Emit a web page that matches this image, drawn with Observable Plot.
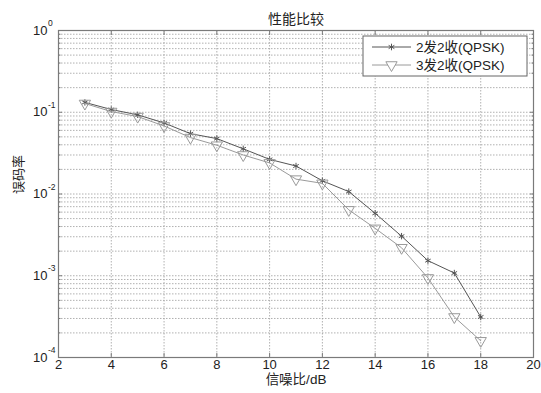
<!DOCTYPE html>
<html>
<head>
<meta charset="utf-8">
<script src="https://cdn.jsdelivr.net/npm/d3@7"></script>
<script src="https://cdn.jsdelivr.net/npm/@observablehq/plot@0.6"></script>
<style>
  html, body { margin: 0; padding: 0; background: #fff; }
  #chart { width: 541px; height: 393px; }
</style>
</head>
<body>
<div id="chart"></div>
<script>
// ---- data ----
const snr = [3, 4, 5, 6, 7, 8, 9, 10, 11, 12, 13, 14, 15, 16, 17, 18];
const ber2x2 = [0.132, 0.108, 0.093, 0.074, 0.0547, 0.0476, 0.0357, 0.0265, 0.022, 0.0145, 0.0107, 0.0058, 0.00305, 0.00153, 0.00108, 0.000313];
const ber3x2 = [0.128, 0.102, 0.0886, 0.068, 0.049, 0.0395, 0.030, 0.024, 0.0152, 0.0135, 0.0064, 0.0038, 0.0022, 0.00094, 0.000313, 0.00016];
const seriesNames = ["2发2收(QPSK)", "3发2收(QPSK)"];
const xTicks = [2, 4, 6, 8, 10, 12, 14, 16, 18, 20];
const decades = [1e-4, 1e-3, 1e-2, 1e-1, 1];
const decadeExps = ["-4", "-3", "-2", "-1", "0"];
const minorMult = [2, 3, 4, 5, 6, 7, 8, 9];
const titleText = "性能比较";
const xLabel = "信噪比/dB";
const yLabel = "误码率";

const minorTicks = decades.slice(0, -1).flatMap(d => minorMult.map(m => m * d));
const allYGrid = decades.concat(minorTicks);
const rows1 = snr.map((x, i) => ({x, y: ber2x2[i]}));
const rows2 = snr.map((x, i) => ({x, y: ber3x2[i]}));

const axisColor = "#7a7a7a";
const gridColor = "#9d9d9d";
const c1 = "#555555";
const c2 = "#9a9a9a";
const font = "'Liberation Sans', Arial, 'Noto Sans CJK SC', sans-serif";

const tickOpts = {tickFormat: () => "", label: null, stroke: axisColor};

const plot = Plot.plot({
  width: 541,
  height: 393,
  marginTop: 30,
  marginBottom: 36,
  marginLeft: 58,
  marginRight: 8,
  style: {fontFamily: font, fontSize: "12px", background: "#fff", color: "#222"},
  x: {domain: [2, 20], label: null},
  y: {type: "log", domain: [1e-4, 1], label: null},
  marks: [
    Plot.ruleX(xTicks.slice(1, -1), {stroke: gridColor, strokeWidth: 0.8, strokeDasharray: "1.5,1.5"}),
    Plot.ruleY(allYGrid.filter(d => d > 1e-4 && d < 1), {stroke: gridColor, strokeWidth: 0.8, strokeDasharray: "1.5,1.5"}),
    Plot.axisX({anchor: "bottom", ticks: xTicks, tickSize: -4, ...tickOpts}),
    Plot.axisX({anchor: "top", ticks: xTicks, tickSize: -4, ...tickOpts}),
    Plot.axisY({anchor: "left", ticks: decades, tickSize: -4, ...tickOpts}),
    Plot.axisY({anchor: "right", ticks: decades, tickSize: -4, ...tickOpts}),
    Plot.axisY({anchor: "left", ticks: minorTicks, tickSize: -2.5, ...tickOpts}),
    Plot.axisY({anchor: "right", ticks: minorTicks, tickSize: -2.5, ...tickOpts}),
    Plot.frame({stroke: axisColor, strokeWidth: 1.2}),
    // tick labels
    Plot.text(xTicks, {x: d => d, frameAnchor: "bottom", dy: 11, text: d => String(d), fontSize: 13, fill: "#222"}),
    Plot.text(decades, {y: d => d, frameAnchor: "left", dx: -11, textAnchor: "end", text: () => "10", fontSize: 13, fill: "#222"}),
    Plot.text(decades, {y: d => d, frameAnchor: "left", dx: -10.5, dy: -7, textAnchor: "start", text: (d, i) => decadeExps[i], fontSize: 8.5, fill: "#222"}),
    // title and axis labels
    Plot.text([titleText], {frameAnchor: "top", dy: -16, fontSize: 14, fill: "#222"}),
    Plot.text([xLabel], {frameAnchor: "bottom", dy: 26, fontSize: 13.5, fill: "#222"}),
    Plot.text([yLabel], {frameAnchor: "left", dx: -40, rotate: -90, fontSize: 13, fill: "#222"}),
    // series
    Plot.line(rows1, {x: "x", y: "y", stroke: c1, strokeWidth: 1}),
    Plot.dot(rows1, {x: "x", y: "y", symbol: "asterisk", r: 3, stroke: c1, strokeWidth: 1}),
    Plot.line(rows2, {x: "x", y: "y", stroke: c2, strokeWidth: 1}),
    Plot.dot(rows2, {x: "x", y: "y", symbol: "triangle", rotate: 180, r: 4.2, stroke: c2, fill: "none", strokeWidth: 1})
  ]
});
document.getElementById("chart").appendChild(plot);

// legend (drawn inside the plot's SVG)
const svg = d3.select(plot.tagName.toLowerCase() === "svg" ? plot : plot.querySelector("svg"));
const lg = svg.append("g").attr("transform", "translate(363,36)");
lg.append("rect").attr("width", 164).attr("height", 40).attr("fill", "#fff").attr("stroke", "#666").attr("stroke-width", 1);
const entries = [
  {name: seriesNames[0], color: c1, sym: d3.symbolAsterisk, size: 30, rot: 0},
  {name: seriesNames[1], color: c2, sym: d3.symbolTriangle, size: 55, rot: 180}
];
entries.forEach((e, i) => {
  const y = 11 + i * 18;
  lg.append("line").attr("x1", 9).attr("x2", 48).attr("y1", y).attr("y2", y).attr("stroke", e.color).attr("stroke-width", 1);
  lg.append("path").attr("d", d3.symbol(e.sym, e.size)()).attr("transform", `translate(28.5,${y}) rotate(${e.rot})`)
    .attr("stroke", e.color).attr("fill", "#fff").attr("stroke-width", 1);
  lg.append("text").attr("x", 53).attr("y", y).attr("dy", "0.35em").attr("font-size", 13.5)
    .attr("text-anchor", "start")
    .attr("font-family", font).attr("fill", "#222").text(e.name);
});
</script>
</body>
</html>
